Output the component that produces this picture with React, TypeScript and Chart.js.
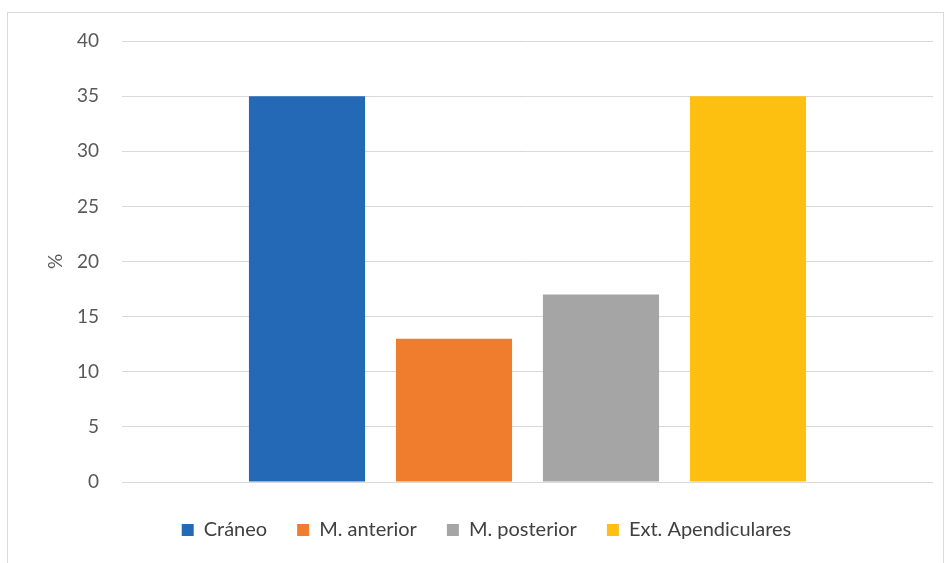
import React, { useEffect, useRef } from "react";
import { Chart, registerables } from "chart.js";

Chart.register(...registerables);

const categories = [""];
const seriesNames = ["Cráneo", "M. anterior", "M. posterior", "Ext. Apendiculares"];
const craneo = [35];
const mAnterior = [13];
const mPosterior = [17];
const extApendiculares = [35];
const seriesColors = ["#2369B6", "#EF7D2D", "#A5A5A5", "#FDC010"];
const yTicks = [0, 5, 10, 15, 20, 25, 30, 35, 40];

export default function App() {
  const ref = useRef<HTMLCanvasElement | null>(null);

  useEffect(() => {
    if (!ref.current) return;
    const values = [craneo, mAnterior, mPosterior, extApendiculares];
    const chart = new Chart(ref.current, {
      type: "bar",
      data: {
        labels: categories,
        datasets: seriesNames.map((name, i) => ({
          label: name,
          data: values[i],
          backgroundColor: seriesColors[i],
          borderWidth: 0,
          categoryPercentage: 0.725,
          barPercentage: 0.79,
        })),
      },
      options: {
        responsive: false,
        animation: false,
        devicePixelRatio: 1,
        layout: { padding: { left: 40, right: 16, top: 41, bottom: 13 } },
        plugins: {
          legend: {
            position: "bottom",
            labels: {
              boxWidth: 12,
              boxHeight: 12,
              padding: 30,
              color: "#404040",
              font: { family: "Lato", size: 20 },
            },
          },
          tooltip: { enabled: false },
        },
        scales: {
          x: {
            display: true,
            grid: { display: false },
            border: { display: false },
            ticks: { display: false },
            afterFit: (scale: any) => {
              scale.height = 8;
            },
          },
          y: {
            min: 0,
            max: 40,
            afterBuildTicks: (scale: any) => {
              scale.ticks = yTicks.map((v) => ({ value: v }));
            },
            afterFit: (scale: any) => {
              scale.width = 82;
            },
            border: { display: false },
            grid: { color: "#D9D9D9", lineWidth: 1, drawTicks: false },
            ticks: {
              padding: 23,
              color: "#595959",
              font: { family: "Lato", size: 19 },
            },
            title: {
              display: true,
              text: "%",
              color: "#595959",
              font: { family: "Lato", size: 19 },
              padding: { top: 4, bottom: 10 },
            },
          },
        },
      },
    });
    return () => chart.destroy();
  }, []);

  return (
    <div style={{ position: "fixed", left: 0, top: 0, width: 949, height: 563, background: "#fff", overflow: "hidden" }}>
      <div style={{ position: "absolute", left: 7, top: 12, width: 935, height: 560, border: "1px solid #D9D9D9" }} />
      <canvas ref={ref} width={949} height={563} style={{ position: "absolute", left: 0, top: 0, width: 949, height: 563 }} />
    </div>
  );
}
